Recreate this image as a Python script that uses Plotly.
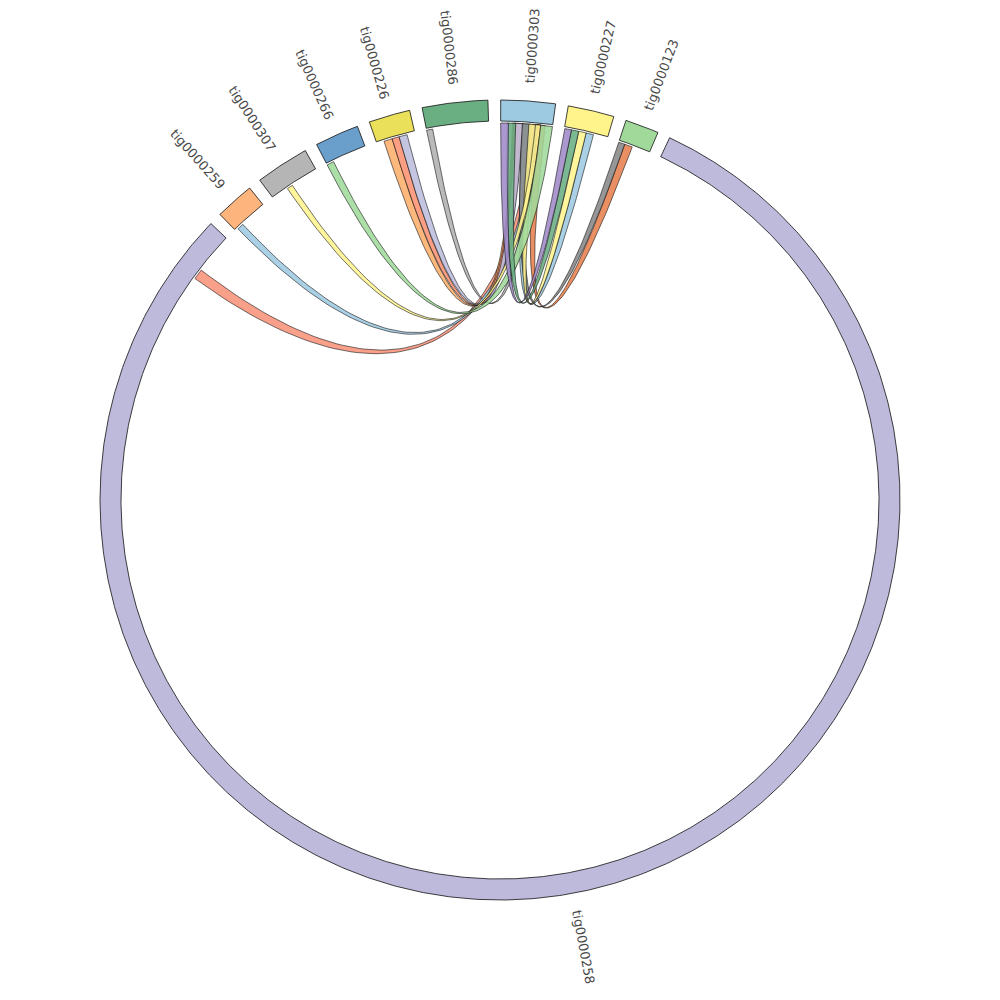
import numpy as np
import plotly.graph_objects as go

# ---------------- data ----------------
contigs = ["tig0000303", "tig0000227", "tig0000123", "tig0000258", "tig0000259",
           "tig0000307", "tig0000266", "tig0000226", "tig0000286"]
lengths_kb = [790, 670, 490, 28865, 570, 780, 640, 600, 950]
node_colors = ["#9ecae1", "#fff38c", "#a1d99b", "#bdbadb", "#fdb57d",
               "#b5b5b5", "#6a9fcb", "#ebe05a", "#6aaf82"]

# links (all from tig0000303), positions in kb within each contig
link_src = ["tig0000303"] * 14
link_src_start = [470, 500, 520, 560, 180, 200, 220, 340, 330, 430, 530, 610, 100, 0]
link_src_end =   [590, 610, 620, 680, 300, 330, 340, 460, 440, 540, 610, 790, 230, 120]
link_dst = ["tig0000258", "tig0000286", "tig0000259", "tig0000123", "tig0000226",
            "tig0000226", "tig0000226", "tig0000227", "tig0000123", "tig0000227",
            "tig0000307", "tig0000266", "tig0000227", "tig0000227"]
link_dst_start = [28090, 0, 43, 96, 114, 244, 354, 337, 0, 222, 260, 0, 110, 7]
link_dst_end =   [28250, 95, 143, 217, 244, 354, 479, 452, 96, 337, 350, 110, 222, 110]
link_colors = ["#f8937b", "#b0b0b0", "#9ecae1", "#e6804d", "#fdae6b",
               "#fc9272", "#bcbddc", "#9ecae1", "#878787", "#fff48f",
               "#fff48f", "#a1d99b", "#6aaf84", "#9e8ac8"]

# ---------------- geometry settings ----------------
START_DEG = 0.1
GAP_DEG = 1.83
R_OUT, R_IN, R_LINK = 400, 379, 377
R_LABEL = 455
K_CTRL = 0.37
PAGE_OFFSET = 8  # default body margin of the html page

total = sum(lengths_kb)
deg_per_kb = (360 - GAP_DEG * len(contigs)) / total
starts = {}
a = START_DEG
for name, L in zip(contigs, lengths_kb):
    starts[name] = a
    a += L * deg_per_kb + GAP_DEG


def pos_deg(name, kb):
    return starts[name] + kb * deg_per_kb


def polar(r, deg):
    t = np.radians(deg)
    return r * np.sin(t), r * np.cos(t)


def arc(r, d1, d2):
    n = max(3, int(abs(d2 - d1) / 0.4) + 2)
    d = np.linspace(d1, d2, n)
    return polar(r, d)


def bezier(p0, p3, n=80):
    p0 = np.array(p0)
    p3 = np.array(p3)
    p1 = K_CTRL * p0
    p2 = K_CTRL * p3
    t = np.linspace(0, 1, n)[:, None]
    b = ((1 - t) ** 3) * p0 + 3 * ((1 - t) ** 2) * t * p1 + 3 * (1 - t) * t ** 2 * p2 + t ** 3 * p3
    return b[:, 0], b[:, 1]


fig = go.Figure()

# ribbons
for s, ss, se, d, ds, de, col in zip(link_src, link_src_start, link_src_end,
                                     link_dst, link_dst_start, link_dst_end, link_colors):
    s1, s2 = pos_deg(s, ss), pos_deg(s, se)
    d1, d2 = pos_deg(d, ds), pos_deg(d, de)
    ax, ay = arc(R_LINK, s1, s2)
    b1x, b1y = bezier(polar(R_LINK, s2), polar(R_LINK, d1))
    cx, cy = arc(R_LINK, d1, d2)
    b2x, b2y = bezier(polar(R_LINK, d2), polar(R_LINK, s1))
    xs = np.concatenate([ax, b1x, cx, b2x])
    ys = np.concatenate([ay, b1y, cy, b2y])
    h = col.lstrip("#")
    rgb = tuple(int(h[i:i + 2], 16) for i in (0, 2, 4))
    fig.add_trace(go.Scatter(x=xs, y=ys, mode="lines", fill="toself",
                             fillcolor="rgba(%d,%d,%d,0.88)" % rgb,
                             line=dict(color="rgba(10,10,10,0.95)", width=0.6),
                             hoverinfo="skip", showlegend=False))

# sectors
for name, L, col in zip(contigs, lengths_kb, node_colors):
    d1 = starts[name]
    d2 = d1 + L * deg_per_kb
    ox, oy = arc(R_OUT, d1, d2)
    ix, iy = arc(R_IN, d2, d1)
    xs = np.concatenate([ox, ix, ox[:1]])
    ys = np.concatenate([oy, iy, oy[:1]])
    fig.add_trace(go.Scatter(x=xs, y=ys, mode="lines", fill="toself", fillcolor=col,
                             line=dict(color="#111111", width=0.8),
                             hoverinfo="skip", showlegend=False))

# labels
annotations = []
for name, L in zip(contigs, lengths_kb):
    mid = starts[name] + L * deg_per_kb / 2
    x, y = polar(R_LABEL, mid)
    ang = mid - 90 if mid < 180 else mid + 90
    if ang > 180:
        ang -= 360
    annotations.append(dict(x=x, y=y, xref="x", yref="y", text=name, showarrow=False,
                            textangle=ang, xanchor="center", yanchor="middle",
                            font=dict(family="DejaVu Sans", size=13, color="#4a4a4a")))

fig.update_layout(
    width=1000, height=1000,
    margin=dict(l=0, r=0, t=0, b=0),
    paper_bgcolor="white", plot_bgcolor="white",
    xaxis=dict(range=[-500 + PAGE_OFFSET, 500 + PAGE_OFFSET], visible=False, fixedrange=True),
    yaxis=dict(range=[-500 - PAGE_OFFSET, 500 - PAGE_OFFSET], visible=False, fixedrange=True),
    annotations=annotations,
    showlegend=False,
)

fig.write_html("out.html")
